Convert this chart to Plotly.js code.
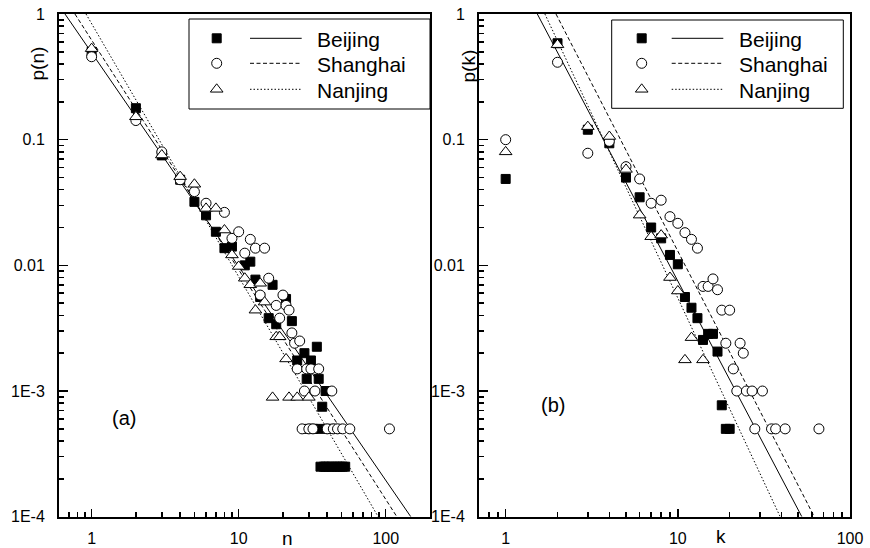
<!DOCTYPE html>
<html>
<head>
<meta charset="utf-8">
<script src="https://cdn.plot.ly/plotly-3.0.1.min.js"></script>
<style>html,body{margin:0;padding:0;background:#fff;}#chart{width:870px;height:548px;}</style>
</head>
<body>
<div id="chart"></div>
<script>
// ---------- Data ----------
// Panel (a): p(n)
const nBeijing  = [1,2,3,4,5,6,7,8,9,11,12,13,14,16,17,18,21,23,25,28,29,31,34,35,37,39,30,32,33,38,41,44,47,36,38,39,41,43,45,47,49,51,53];
const pnBeijing = [0.50,0.178,0.075,0.048,0.032,0.025,0.0185,0.0137,0.0141,0.010,0.0107,0.0077,0.0056,0.0038,0.0070,0.0034,0.0054,0.0036,0.00175,0.0020,0.00125,0.00175,0.00225,0.00125,0.00075,0.001,0.0005,0.0005,0.0005,0.0005,0.0005,0.0005,0.0005,0.00025,0.00025,0.00025,0.00025,0.00025,0.00025,0.00025,0.00025,0.00025,0.00025];
const nShanghai  = [1,2,3,4,5,6,8,9,10,11,12,13,14,15,16,18,19,20,21,22,23,24,26,25,29,31,35,28,33,43,27,30,32,40,44,47,51,57,106];
const pnShanghai = [0.457,0.142,0.080,0.048,0.0386,0.0312,0.0264,0.0164,0.0185,0.0125,0.0161,0.0137,0.0058,0.0137,0.0079,0.0048,0.0038,0.0058,0.0048,0.0044,0.0029,0.0024,0.0025,0.0015,0.0015,0.0015,0.0015,0.001,0.001,0.001,0.0005,0.0005,0.0005,0.0005,0.0005,0.0005,0.0005,0.0005,0.0005];
const nNanjing  = [1,2,3,4,5,6,7,8,9,10,11,12,14,13,15,18,19,21,17,22,25,30];
const pnNanjing = [0.53,0.152,0.0755,0.0508,0.0442,0.0284,0.0284,0.0191,0.0121,0.0098,0.0079,0.0070,0.0072,0.0044,0.0051,0.0027,0.0027,0.0018,0.00089,0.00089,0.00089,0.00089];
// fitted power-law lines of panel (a): end points
const fitN_Beijing_x  = [0.659, 148];
const fitN_Shanghai_x = [0.77, 119];
const fitN_Nanjing_x  = [0.916, 88.8];
const fitN_y          = [1, 1e-4];

// Panel (b): p(k)
const kBeijing  = [1,2,3,4,5,6,7,8,9,10,11,12,13,14,15,16,17,18,19,20];
const pkBeijing = [0.0487,0.585,0.12,0.0936,0.0499,0.0348,0.020,0.0164,0.0121,0.0102,0.0056,0.0046,0.0038,0.00255,0.00285,0.00285,0.00206,0.00077,0.0005,0.0005];
const kShanghai  = [1,2,3,4,5,6,7,8,9,10,11,12,13,14,15,16,17,18,20,19,23,24,21,22,25,27,31,28,35,37,42,66];
const pkShanghai = [0.1,0.413,0.078,0.097,0.061,0.0487,0.0312,0.033,0.0244,0.0216,0.0182,0.0161,0.0137,0.0068,0.0068,0.0078,0.0064,0.0044,0.0044,0.0024,0.0024,0.0020,0.0015,0.001,0.001,0.001,0.001,0.0005,0.0005,0.0005,0.0005,0.0005];
const kNanjing  = [1,2,3,4,5,6,7,8,9,10,12,11,14];
const pkNanjing = [0.080,0.57,0.127,0.106,0.058,0.0251,0.0169,0.0174,0.0080,0.00625,0.00266,0.00177,0.00177];
const fitK_Beijing_x  = [1.527, 52.5];
const fitK_Shanghai_x = [1.96, 62];
const fitK_Nanjing_x  = [1.69, 39.3];
const fitK_y          = [1, 1e-4];

// tick labels
const xTickVals = [1, 10, 100];
const xTickText = ['1', '10', '100'];
const yTickVals = [1e-4, 1e-3, 0.01, 0.1, 1];
const yTickText = ['1E-4', '1E-3', '0.01', '0.1', '1'];
const seriesNames = ['Beijing', 'Shanghai', 'Nanjing'];

// ---------- Styling / layout ----------
const FONT = 'Liberation Sans, Arial, Helvetica, sans-serif';
const W = 870, H = 548;
const px = v => v / W, py = v => 1 - v / H;

function minorVals(lo, hi) {
  const out = [];
  for (let d = Math.floor(Math.log10(lo)) ; d <= Math.ceil(Math.log10(hi)); d++) {
    for (let m = 2; m <= 9; m++) { const v = m * Math.pow(10, d); if (v > lo && v < hi) out.push(v); }
  }
  return out;
}

const sqStyle  = {symbol: 'square', size: 9, color: '#000', line: {color: '#000', width: 1}};
const ciStyle  = {symbol: 'circle', size: 10, color: '#fff', line: {color: '#000', width: 1}};
const trStyle  = {symbol: 'triangle-up', size: 11, color: '#fff', line: {color: '#000', width: 1}};
const lnStyles = [{color: '#000', width: 1, dash: 'solid'}, {color: '#000', width: 1, dash: '4px,2.5px'}, {color: '#000', width: 1, dash: '1.5px,2px'}];
const mkStyles = [sqStyle, ciStyle, trStyle];

function pts(x, y, xa, ya, m) { return {x, y, xaxis: xa, yaxis: ya, mode: 'markers', type: 'scatter', marker: m, hoverinfo: 'skip', cliponaxis: true}; }
function ln(x, y, xa, ya, l) { return {x, y, xaxis: xa, yaxis: ya, mode: 'lines', type: 'scatter', line: l, hoverinfo: 'skip'}; }

const traces = [
  ln(fitN_Beijing_x, fitN_y, 'x', 'y', lnStyles[0]),
  ln(fitN_Shanghai_x, fitN_y, 'x', 'y', lnStyles[1]),
  ln(fitN_Nanjing_x, fitN_y, 'x', 'y', lnStyles[2]),
  pts(nBeijing, pnBeijing, 'x', 'y', sqStyle),
  pts(nShanghai, pnShanghai, 'x', 'y', ciStyle),
  pts(nNanjing, pnNanjing, 'x', 'y', trStyle),
  ln(fitK_Beijing_x, fitK_y, 'x2', 'y2', lnStyles[0]),
  ln(fitK_Shanghai_x, fitK_y, 'x2', 'y2', lnStyles[1]),
  ln(fitK_Nanjing_x, fitK_y, 'x2', 'y2', lnStyles[2]),
  pts(kBeijing, pkBeijing, 'x2', 'y2', sqStyle),
  pts(kShanghai, pkShanghai, 'x2', 'y2', ciStyle),
  pts(kNanjing, pkNanjing, 'x2', 'y2', trStyle)
];

// legend glyphs (drawn on an overlay axis spanning the page)
const legendPanels = [
  {mx: 216.7, lx0: 250, lx1: 301.7, tx: 315, box: [189, 19, 430, 109]},
  {mx: 641.7, lx0: 671.7, lx1: 723.3, tx: 736.7, box: [611.7, 20, 843.3, 108.3]}
];
const legendRowsY = [38.3, 63.3, 89.3];
const shapes = [];
const annotations = [];
legendPanels.forEach(L => {
  shapes.push({type: 'rect', xref: 'paper', yref: 'paper', x0: px(L.box[0]), x1: px(L.box[2]), y0: py(L.box[3]), y1: py(L.box[1]), line: {color: '#000', width: 1}, fillcolor: 'rgba(0,0,0,0)', layer: 'above'});
  legendRowsY.forEach((ry, i) => {
    traces.push({x: [px(L.mx)], y: [py(ry)], xaxis: 'x3', yaxis: 'y3', mode: 'markers', type: 'scatter', marker: mkStyles[i], hoverinfo: 'skip', cliponaxis: false});
    traces.push({x: [px(L.lx0), px(L.lx1)], y: [py(ry), py(ry)], xaxis: 'x3', yaxis: 'y3', mode: 'lines', type: 'scatter', line: lnStyles[i], hoverinfo: 'skip'});
    annotations.push({xref: 'paper', yref: 'paper', x: px(L.tx), y: py(ry + 1), xanchor: 'left', yanchor: 'middle', text: seriesNames[i], showarrow: false, font: {family: FONT, size: 21, color: '#000'}});
  });
});

function ann(text, x, y, size, angle) {
  return {xref: 'paper', yref: 'paper', x: px(x), y: py(y), xanchor: 'center', yanchor: 'middle', text, showarrow: false, textangle: angle || 0, font: {family: FONT, size, color: '#000'}};
}
annotations.push(ann('p(n)', 37.5, 64, 19, -90));
annotations.push(ann('p(k)', 467.5, 66, 19, -90));
annotations.push(ann('n', 287, 538, 19));
annotations.push(ann('k', 721, 536, 19));
annotations.push(ann('(a)', 124, 418, 20));
annotations.push(ann('(b)', 553, 405, 20));

function xAxis(domain, lo, hi, anchor) {
  return {type: 'log', domain, range: [Math.log10(lo), Math.log10(hi)], anchor,
    tickmode: 'array', tickvals: xTickVals, ticktext: xTickText,
    ticks: 'inside', ticklen: 8, tickwidth: 1.5, tickcolor: '#000',
    minor: {tickmode: 'array', tickvals: minorVals(lo, hi), ticks: 'inside', ticklen: 5, tickwidth: 1.5, tickcolor: '#000', showgrid: false},
    showline: true, linewidth: 2, linecolor: '#000', mirror: true,
    showgrid: false, zeroline: false, ticklabelstandoff: 6,
    tickfont: {family: FONT, size: 16, color: '#000'}, fixedrange: true};
}
function yAxis(domain, anchor) {
  return {type: 'log', domain, range: [-4, 0], anchor,
    tickmode: 'array', tickvals: yTickVals, ticktext: yTickText,
    ticks: 'inside', ticklen: 9, tickwidth: 1.5, tickcolor: '#000',
    minor: {tickmode: 'array', tickvals: minorVals(1e-4, 1), ticks: 'inside', ticklen: 5, tickwidth: 1.5, tickcolor: '#000', showgrid: false},
    showline: true, linewidth: 2, linecolor: '#000', mirror: true,
    showgrid: false, zeroline: false, ticklabelstandoff: 9,
    tickfont: {family: FONT, size: 16, color: '#000'}, fixedrange: true};
}

const yDom = [py(516.7), py(14)];
const layout = {
  width: W, height: H,
  margin: {l: 0, r: 0, t: 0, b: 0, pad: 0},
  paper_bgcolor: '#fff', plot_bgcolor: 'rgba(0,0,0,0)',
  showlegend: false,
  font: {family: FONT, size: 16, color: '#000'},
  xaxis: xAxis([px(59), px(430)], 0.6, 200, 'y'),
  yaxis: yAxis(yDom, 'x'),
  xaxis2: xAxis([px(479), px(850)], 0.7, 100, 'y2'),
  yaxis2: yAxis(yDom, 'x2'),
  xaxis3: {domain: [0, 1], range: [0, 1], visible: false, anchor: 'y3', fixedrange: true},
  yaxis3: {domain: [0, 1], range: [0, 1], visible: false, anchor: 'x3', fixedrange: true},
  shapes, annotations
};

Plotly.newPlot('chart', traces, layout, {staticPlot: true, displayModeBar: false});
</script>
</body>
</html>
